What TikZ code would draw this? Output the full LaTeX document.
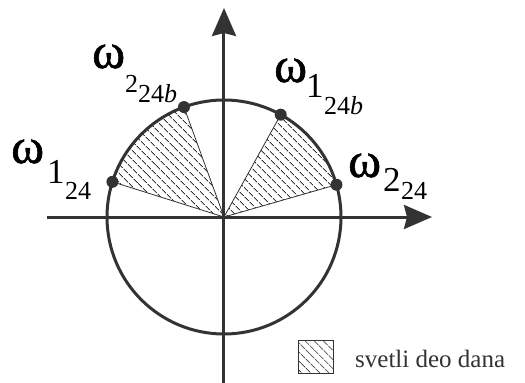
\documentclass[tikz,border=0pt]{standalone}
\usepackage{fontspec}
\setmainfont{Liberation Serif}
\newfontfamily\omegafont[FakeBold=1.2]{Liberation Serif}
\usetikzlibrary{arrows.meta,patterns.meta}
\definecolor{ink}{HTML}{333333}
\begin{document}
\begin{tikzpicture}[x=1pt,y=1pt,
  axis/.style={line width=3pt,draw=ink,-{Stealth[length=28pt,width=24pt,inset=3pt]}},
  hatch/.style={pattern={Lines[angle=-45,distance=6.5pt,line width=1pt]},pattern color=ink},
  dot/.style={circle,fill=ink,inner sep=0pt,minimum size=12pt},
  lbl/.style={anchor=base west,inner sep=0pt,text=black},
  big/.style={lbl,font=\omegafont\fontsize{50}{50}\selectfont},
  sub/.style={lbl,font=\fontsize{35}{35}\selectfont},
  ssub/.style={lbl,font=\fontsize{26}{26}\selectfont}]
\useasboundingbox (-224,-166) rectangle (301,217);
\coordinate (O) at (0,0);
% hatched sectors
\path[hatch] (O) -- (110:117) arc[start angle=110,end angle=162.5,radius=117] -- cycle;
\path[hatch] (O) -- (16:117) arc[start angle=16,end angle=61,radius=117] -- cycle;
\draw[ink,line width=0.8pt] (O) -- (110:117) (O) -- (162.5:117) (O) -- (16:117) (O) -- (61:117);
% circle
\draw[ink,line width=3pt] (O) circle[radius=117];
% axes
\coordinate (xs) at (-177,0);
\coordinate (xe) at (208,0);
\coordinate (ys) at (0,-166);
\coordinate (ye) at (0,209);
\draw[axis] (xs) -- (xe);
\draw[axis] (ys) -- (ye);
% dots
\node[dot] (p1) at (162.5:117) {};
\node[dot] (p2) at (110:117) {};
\node[dot] (p3) at (61:117) {};
\node[dot] (p4) at (16:117) {};
% labels
\node[big] (l1) at (-213,54) {ω};
\node[sub] (l1s) at (-177,34) {1};
\node[ssub] (l1ss) at (-159,17) {24};
\node[big] (l2) at (-132,149) {ω};
\node[ssub] (l2s) at (-99,124) {2};
\node[ssub] (l2ss) at (-86,114) {24\textit{b}};
\node[big] (l3) at (50,135) {ω};
\node[sub] (l3s) at (82,119) {1};
\node[ssub] (l3ss) at (100,102) {24\textit{b}};
\node[big] (l4) at (124,40) {ω};
\node[sub] (l4s) at (159,25) {2};
\node[ssub] (l4ss) at (177,17) {24};
% legend
\path[hatch,draw=ink,line width=1pt] (74,-156) rectangle (109,-123);
\node[lbl,font=\fontsize{25}{25}\selectfont,text=ink] (leg) at (131,-150) {svetli deo dana};
\end{tikzpicture}
\end{document}
